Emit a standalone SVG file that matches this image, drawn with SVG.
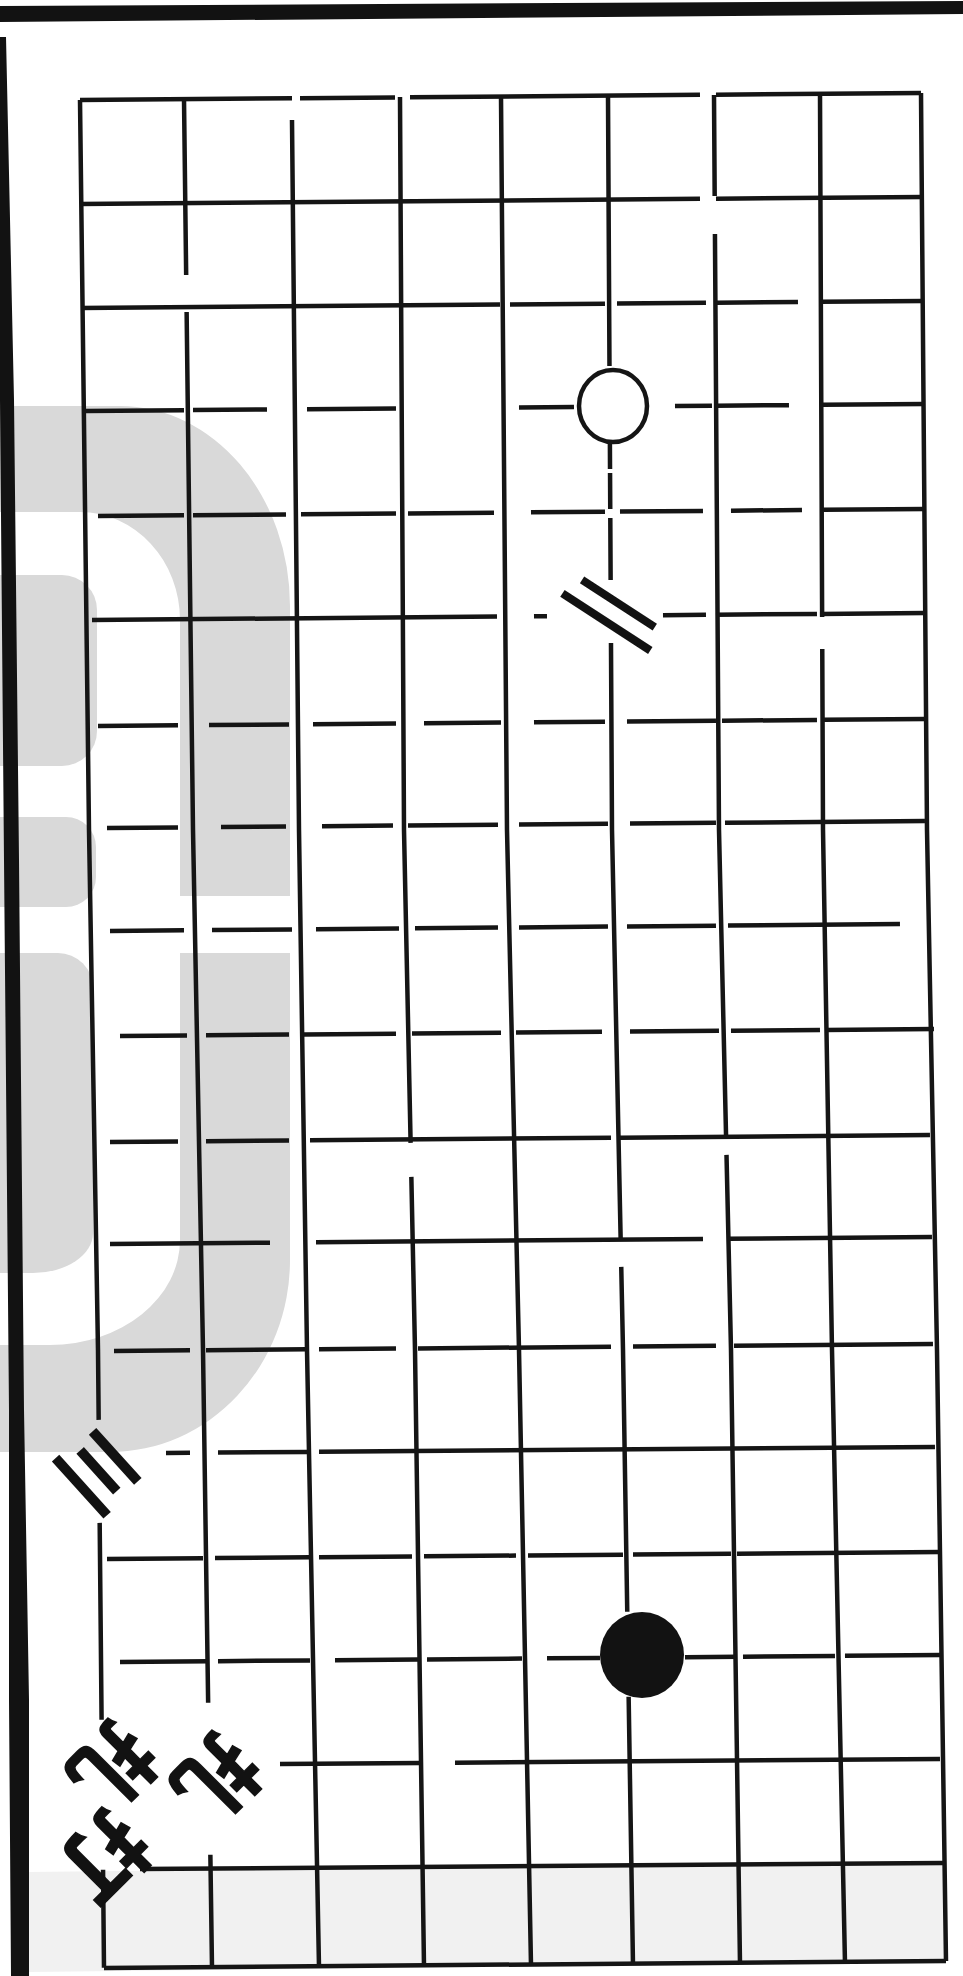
<svg xmlns="http://www.w3.org/2000/svg" width="963" height="1976" viewBox="0 0 963 1976">
<style>
.wm{fill:#d9d9d9;stroke:none}
.ln{stroke:#151515;stroke-width:4.5;fill:none;stroke-linecap:butt;stroke-linejoin:round}
.ink{fill:#121212}
.cjk{font-family:"Noto Sans CJK SC","Noto Sans CJK JP",sans-serif;font-weight:700;fill:#121212;stroke:#121212;text-anchor:middle;dominant-baseline:central}
</style>
<rect width="963" height="1976" fill="#ffffff"/>
<g id="watermark">
<path class="wm" d="M0,406 H120 A170 200 0 0 1 290 606 V896 H180 V620 A100 108 0 0 0 80 512 H0 Z"/>
<path class="wm" d="M0,575 H62 A35 35 0 0 1 97 610 V731 A35 35 0 0 1 62 766 H0 Z"/>
<path class="wm" d="M0,817 H66 A30 30 0 0 1 96 847 V877 A30 30 0 0 1 66 907 H0 Z"/>
<path class="wm" d="M0,953 H58 A35 35 0 0 1 93 988 V1233 A60 40 0 0 1 33 1273 H0 Z"/>
<path class="wm" d="M180,953 H290 V1260 A180 192 0 0 1 110 1452 H0 V1345 H50 A130 105 0 0 0 180 1240 Z"/>
</g>
<g id="bottom-shade">
<polygon points="28,1872 946,1862 946,1962 28,1972" fill="#f1f1f1"/>
</g>
<g id="page-border">
<polygon class="ink" points="0,6 963,1 963,14 0,22"/>
<polygon class="ink" points="0,37 6,37 14,400 19,860 24,1410 29,1700 29,1976 11,1976 9,1700 9,1410 4,860 0,400"/>
</g>
<g id="grid-columns">
<polyline class="ln" points="80,100 89,830 98,1350 104,1968" stroke-dasharray="1320 103 197 150 98 2000"/>
<polyline class="ln" points="184,99 193,830 203,1350 212,1967" stroke-dasharray="176 37 1391 152 112 2000"/>
<polyline class="ln" points="292,120 299,830 307,1350 319,1967"/>
<polyline class="ln" points="400,97 404,830 415,1350 424,1966" stroke-dasharray="1046 34 789 2000"/>
<polyline class="ln" points="501,96.5 507,830 519,1350 531,1965"/>
<polyline class="ln" points="608,96 612,830 623,1350 633,1965" stroke-dasharray="270 78 25 4 36 9 62 63 598 26 345 85 268 2000"/>
<polyline class="ln" points="714,95 719,830 731,1350 740,1964" stroke-dasharray="101 38 903 18 809 2000"/>
<polyline class="ln" points="820,94 823,830 832,1350 845,1963" stroke-dasharray="523 32 1314 2000"/>
<polyline class="ln" points="921,93 927,830 937,1350 946,1961"/>
</g>
<g id="grid-rows">
<line class="ln" x1="80" y1="100" x2="921" y2="93" stroke-dasharray="212 8 95 15 290 16 205 2000"/>
<line class="ln" x1="80" y1="204" x2="923" y2="197" stroke-dasharray="620 16 207 2000"/>
<line class="ln" x1="81" y1="308" x2="923" y2="301" stroke-dasharray="419 10 95 12 89 10 82 22 103 2000"/>
<line class="ln" x1="86" y1="411" x2="924" y2="404" stroke-dasharray="98 9 74 40 89 123 55 101 37 4 73 34 101 2000"/>
<line class="ln" x1="98" y1="516" x2="925" y2="509" stroke-dasharray="86 9 93 15 95 12 86 37 74 15 83 28 71 21 102 2000"/>
<line class="ln" x1="92" y1="620" x2="925" y2="613" stroke-dasharray="405 37 13 116 43 10 101 3 105 2000"/>
<line class="ln" x1="98" y1="726" x2="925" y2="719" stroke-dasharray="80 31 80 24 83 28 77 33 71 22 89 6 95 6 102 2000"/>
<line class="ln" x1="107" y1="828" x2="925" y2="821" stroke-dasharray="71 43 65 36 71 15 90 21 89 22 86 9 200 2000"/>
<line class="ln" x1="110" y1="931" x2="900" y2="924" stroke-dasharray="74 28 80 24 83 16 83 21 89 19 89 12 172 2000"/>
<line class="ln" x1="120" y1="1036" x2="934" y2="1029" stroke-dasharray="67 19 83 15 92 16 89 15 86 28 89 12 89 6 108 2000"/>
<line class="ln" x1="110" y1="1142" x2="930" y2="1135" stroke-dasharray="68 28 83 21 301 9 310 2000"/>
<line class="ln" x1="110" y1="1244" x2="932" y2="1237" stroke-dasharray="160 46 387 25 204 2000"/>
<line class="ln" x1="114" y1="1351" x2="933" y2="1344" stroke-dasharray="76 16 101 12 77 22 193 22 83 18 199 2000"/>
<line class="ln" x1="166" y1="1453" x2="935" y2="1447" stroke-dasharray="24 28 89 12 616 2000"/>
<line class="ln" x1="107" y1="1559" x2="940" y2="1552" stroke-dasharray="96 12 95 9 93 12 92 12 95 10 98 6 203 2000"/>
<line class="ln" x1="120" y1="1662" x2="940" y2="1655" stroke-dasharray="89 9 92 25 83 9 95 25 53 85 52 6 92 10 95 2000"/>
<line class="ln" x1="280" y1="1764" x2="940" y2="1759" stroke-dasharray="141 34 485 2000"/>
<line class="ln" x1="140" y1="1869" x2="943" y2="1863"/>
<line class="ln" x1="104" y1="1968" x2="946" y2="1961"/>
</g>
<g id="stones">
<ellipse id="white-stone" cx="613" cy="406" rx="34" ry="36" fill="#ffffff" stroke="#151515" stroke-width="4.5"/>
<ellipse id="black-stone" cx="642" cy="1655" rx="42" ry="43" fill="#121212"/>
</g>
<g id="labels">
<text class="cjk" font-size="90" stroke-width="7" transform="translate(614,610) rotate(33) scale(1.2,0.42)">二</text>
<text class="cjk" font-size="86" stroke-width="2" transform="translate(102,1468) rotate(48) scale(1,0.8)">三</text>
<text class="cjk" font-size="82" stroke-width="1.5" transform="translate(220,1782) rotate(135)">扎</text>
<text class="cjk" font-size="82" stroke-width="1.5" transform="translate(116,1770) rotate(135)">扎</text>
<text class="cjk" font-size="82" stroke-width="1.5" transform="translate(108,1860) rotate(135)">打</text>
</g>
</svg>
